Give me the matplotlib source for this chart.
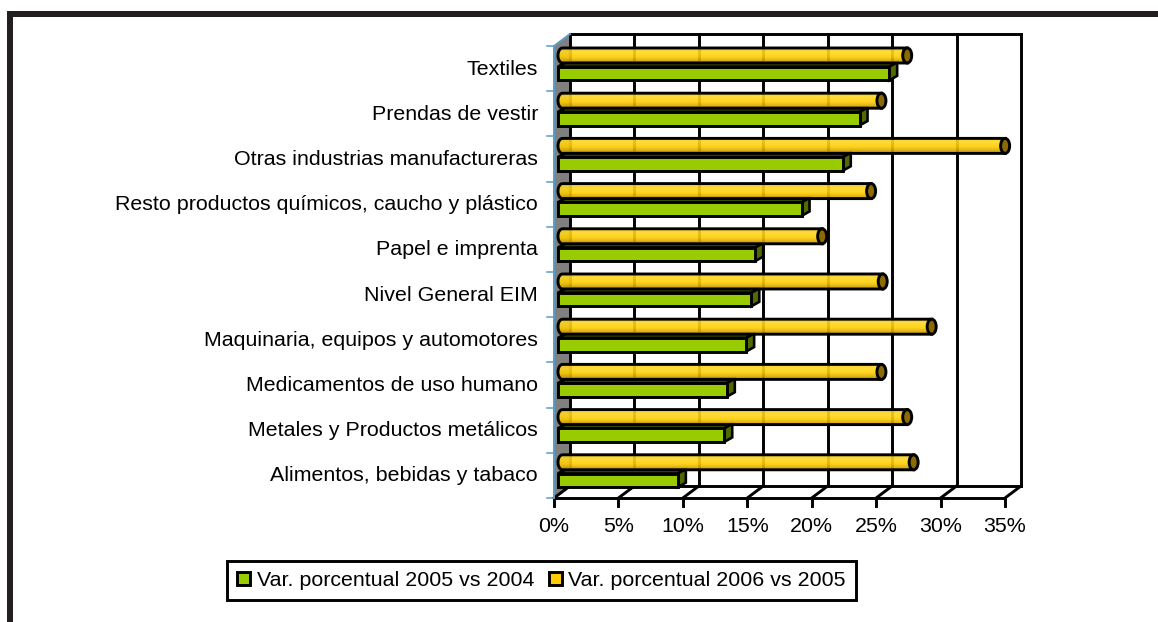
import numpy as np
import matplotlib
matplotlib.use("Agg")
import matplotlib.pyplot as plt
from matplotlib.patches import Polygon, Patch, Rectangle, PathPatch, Ellipse
from matplotlib.path import Path
from matplotlib.colors import LinearSegmentedColormap

plt.rcParams['font.family'] = ['Liberation Sans', 'DejaVu Sans']

categories = ["Alimentos, bebidas y tabaco", "Metales y Productos metálicos",
              "Medicamentos de uso humano", "Maquinaria, equipos y automotores",
              "Nivel General EIM", "Papel e imprenta",
              "Resto productos químicos, caucho y plástico",
              "Otras industrias manufactureras", "Prendas de vestir", "Textiles"]
var_2005 = [9.3, 12.9, 13.1, 14.6, 15.0, 15.3, 18.9, 22.1, 23.4, 25.7]
var_2006 = [27.6, 27.1, 25.1, 29.0, 25.2, 20.5, 24.3, 34.7, 25.1, 27.1]
x_ticks = [0, 5, 10, 15, 20, 25, 30, 35]
series_names = ["Var. porcentual 2005 vs 2004", "Var. porcentual 2006 vs 2005"]

W, H = 1158, 622
FS = 15.4
fig = plt.figure(figsize=(W/100, H/100), dpi=100, facecolor='white')

# page frame
FRAME = '#231F20'
fig.add_artist(Rectangle((7/W, 0), 6/W, (H-12)/H, transform=fig.transFigure, fc=FRAME, ec='none'))
fig.add_artist(Rectangle((7/W, (H-17)/H), (W-7)/W, 6/H, transform=fig.transFigure, fc=FRAME, ec='none'))

# plot axes: front floor edge 554..1005 px, front height 46..498 px
ax = fig.add_axes([554/W, (H-498)/H, (1005-554)/W, (498-46)/H])
ax.set_xlim(0, 35)
ax.set_ylim(0, 10)
ax.axis('off')
px = 35/(1005-554)      # data units of x per pixel
py = 10/(498-46)        # data units of y per pixel
dx, dy = 16*px, 12*py   # depth of the 3D box
LW = 2.1
BLUE = '#5B9BC5'

def L(xs, ys, c='black', lw=LW, z=2):
    ax.plot(xs, ys, color=c, lw=lw, zorder=z, clip_on=False, solid_capstyle='projecting')

# walls
ax.add_patch(Polygon([(0, 0), (dx, dy), (dx, 10+dy), (0, 10)], fc='#808080', ec='none', zorder=1, clip_on=False))
for t in x_ticks:
    L([t+dx, t+dx], [dy, 10+dy])
    L([t, t+dx], [0, dy])
    L([t, t], [0, -8*py])
L([dx, 35+dx], [10+dy, 10+dy])
L([dx, 35+dx], [dy, dy])
L([0, 35], [0, 0])
# category axis
L([0, 0], [0, 10], c=BLUE, lw=1.4, z=3)
L([0, dx], [10, 10+dy], c=BLUE, lw=1.4, z=3)
for i in range(11):
    L([-7*px, 0], [i, i], c=BLUE, lw=1.1, z=3)

x0 = 4*px
GREEN = '#99CC00'
cmap = LinearSegmentedColormap.from_list('cyl', [
    (0.0, '#F8CC20'), (0.3, '#FFD820'), (0.6, '#FFCC00'),
    (0.8, '#E0AF00'), (1.0, '#B89200')])
grad = np.linspace(0, 1, 64).reshape(-1, 1)
rx = 4.5*px
hg, hy = 13.5*py, 15*py

for i, (g, y) in enumerate(zip(var_2005, var_2006)):
    # green box
    b = i + 0.39 - hg/2
    xe = x0 + g
    ox, oy = 8*px, 4.5*py
    ax.add_patch(Polygon([(x0, b+hg), (x0+ox, b+hg+oy), (xe+ox, b+hg+oy), (xe, b+hg)],
                         fc='#3F5500', ec='black', lw=LW, zorder=4, clip_on=False))
    ax.add_patch(Polygon([(xe, b), (xe+ox, b+oy), (xe+ox, b+hg+oy), (xe, b+hg)],
                         fc='#4F6B00', ec='black', lw=LW*0.9, zorder=4, clip_on=False))
    ax.add_patch(Rectangle((x0, b), g, hg, fc=GREEN, ec='black', lw=LW, zorder=5, clip_on=False))

    # yellow cylinder
    c = i + 0.79
    ry = hy/2
    tc = x0 + rx
    xc = x0 + y
    th = np.linspace(np.pi/2, 3*np.pi/2, 30)
    lx, ly = tc + rx*np.cos(th), c + ry*np.sin(th)
    verts = list(zip(lx, ly)) + [(xc, c-ry), (xc, c+ry), (tc, c+ry)]
    path = Path(verts)
    im = ax.imshow(grad, cmap=cmap, aspect='auto', origin='upper',
                   extent=(x0, xc, c-ry, c+ry), zorder=6, alpha=0.9)
    body = PathPatch(path, transform=ax.transData, fc='none', ec='none')
    ax.add_patch(body)
    im.set_clip_path(body)
    ax.add_patch(PathPatch(path, fc='none', ec='black', lw=LW, zorder=7, clip_on=False))
    ax.add_patch(Ellipse((xc, c), 2*rx, 2*ry, fc='#8B6B00', ec='black', lw=LW, zorder=8, clip_on=False))

ax.set_xlim(0, 35)
ax.set_ylim(0, 10)

# labels
for i, name in enumerate(categories):
    ax.text(-16*px, i+0.49, name, ha='right', va='center', fontsize=FS, color='black', clip_on=False)
for t in x_ticks:
    ax.text(t, -28.5*py, f"{t}%", ha='center', va='center', fontsize=FS, color='black', clip_on=False)

# legend
handles = [Patch(fc=GREEN, ec='black', lw=LW), Patch(fc='#FFCC00', ec='black', lw=LW)]
leg = fig.legend(handles, series_names, ncol=2, loc='center',
                 bbox_to_anchor=(541.5/W, (H-580.5)/H), fontsize=FS, frameon=True, fancybox=False,
                 edgecolor='black', facecolor='white', framealpha=1,
                 handlelength=0.62, handleheight=0.58, handletextpad=0.3,
                 columnspacing=0.69, borderpad=0.45, borderaxespad=0)
leg.get_frame().set_linewidth(LW)

fig.savefig('out.png', dpi=100, facecolor='white')
